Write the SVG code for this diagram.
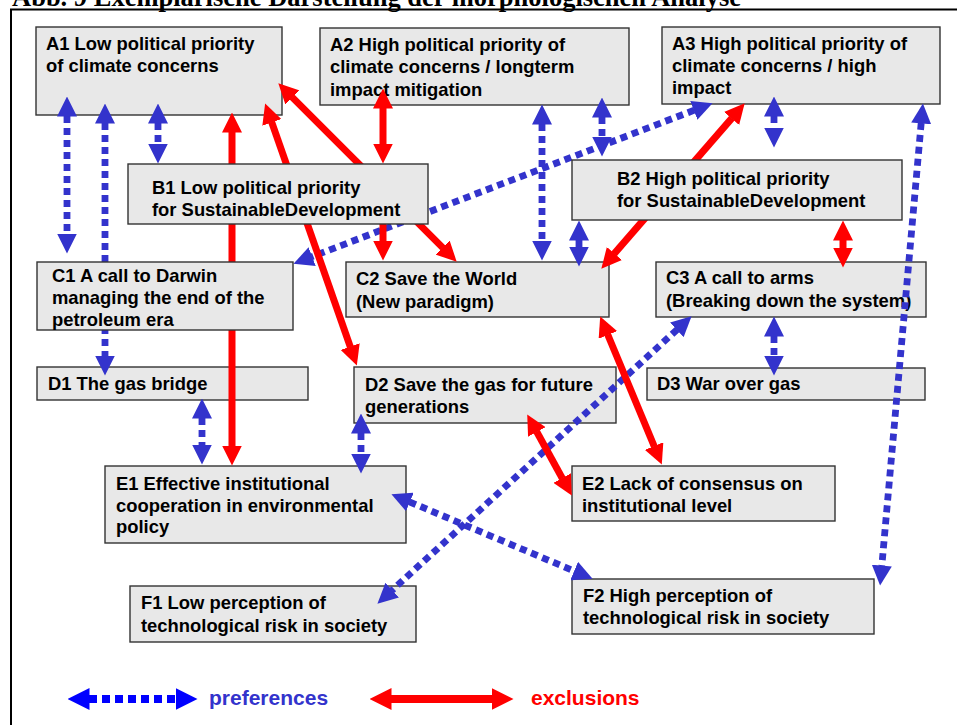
<svg xmlns="http://www.w3.org/2000/svg" width="957" height="725" viewBox="0 0 957 725">
<defs>
<style>
.box{fill:#e8e8e8;stroke:#333;stroke-width:1.4}
.t{font-family:"Liberation Sans",Arial,sans-serif;font-weight:bold;font-size:18.4px;fill:#000}
.pref{fill:none;stroke:#3333cc;stroke-width:6.8;stroke-dasharray:7 5;marker-start:url(#hb);marker-end:url(#hb)}
.excl{fill:none;stroke:#ff0000;stroke-width:7;marker-start:url(#hr);marker-end:url(#hr)}
</style>
<marker id="hb" markerUnits="userSpaceOnUse" markerWidth="20" markerHeight="20" viewBox="0 0 20 20" refX="0.5" refY="10" orient="auto-start-reverse"><path d="M0,0 L20,10 L0,20 Z" fill="#3333cc"/></marker>
<marker id="hr" markerUnits="userSpaceOnUse" markerWidth="20" markerHeight="20" viewBox="0 0 20 20" refX="0.5" refY="10" orient="auto-start-reverse"><path d="M0,0 L20,10 L0,20 Z" fill="#ff0000"/></marker>
<marker id="lb" markerUnits="userSpaceOnUse" markerWidth="22" markerHeight="22" viewBox="0 0 22 22" refX="0.5" refY="11" orient="auto-start-reverse"><path d="M0,0 L22,11 L0,22 Z" fill="#0000ff"/></marker>
<marker id="lr" markerUnits="userSpaceOnUse" markerWidth="22" markerHeight="22" viewBox="0 0 22 22" refX="0.5" refY="11" orient="auto-start-reverse"><path d="M0,0 L22,11 L0,22 Z" fill="#ff0000"/></marker>
</defs>
<rect width="957" height="725" fill="#fff"/>
<text x="12" y="6" font-family="Liberation Serif,serif" font-weight="bold" font-size="26.5">Abb. 9 Exemplarische Darstellung der morphologischen Analyse</text>
<path d="M11,725 V9.5 H957" fill="none" stroke="#000" stroke-width="2"/>

<g id="A1"><rect class="box" x="36" y="27" width="246" height="88"/><text class="t" x="46" y="50">A1 Low political priority</text><text class="t" x="46" y="72">of climate concerns</text></g>
<g id="A2"><rect class="box" x="320" y="28" width="309" height="77"/><text class="t" x="330" y="51">A2 High political priority of</text><text class="t" x="330" y="73">climate concerns / longterm</text><text class="t" x="330" y="96">impact mitigation</text></g>
<g id="A3"><rect class="box" x="662" y="27" width="278" height="77"/><text class="t" x="672" y="50">A3 High political priority of</text><text class="t" x="672" y="72">climate concerns / high</text><text class="t" x="672" y="94">impact</text></g>
<g id="C2"><rect class="box" x="346" y="262" width="263" height="55"/><text class="t" x="356" y="285">C2 Save the World</text><text class="t" x="356" y="308">(New paradigm)</text></g>
<g id="C3"><rect class="box" x="656" y="262" width="270" height="55"/><text class="t" x="666" y="284">C3 A call to arms</text><text class="t" x="666" y="307">(Breaking down the system)</text></g>
<g id="D1"><rect class="box" x="37" y="367" width="271" height="33"/><text class="t" x="48" y="390">D1 The gas bridge</text></g>
<g id="D2"><rect class="box" x="354" y="367" width="262" height="56"/><text class="t" x="365" y="391">D2 Save the gas for future</text><text class="t" x="365" y="413">generations</text></g>
<g id="D3"><rect class="box" x="647" y="368" width="278" height="32"/><text class="t" x="657" y="390">D3 War over gas</text></g>
<g id="E1"><rect class="box" x="105" y="466" width="301" height="77"/><text class="t" x="116" y="490">E1 Effective institutional</text><text class="t" x="116" y="512">cooperation in environmental</text><text class="t" x="116" y="533">policy</text></g>
<g id="E2"><rect class="box" x="572" y="466" width="263" height="55"/><text class="t" x="582" y="490">E2 Lack of consensus on</text><text class="t" x="582" y="512">institutional level</text></g>
<g id="F1"><rect class="box" x="130" y="586" width="286" height="56"/><text class="t" x="141" y="609">F1 Low perception of</text><text class="t" x="141" y="632">technological risk in society</text></g>
<g id="F2"><rect class="box" x="572" y="579" width="302" height="55"/><text class="t" x="583" y="602">F2 High perception of</text><text class="t" x="583" y="624">technological risk in society</text></g>

<g id="connectors">
<line class="pref" x1="67" y1="116" x2="67" y2="234"/>
<line class="pref" x1="105" y1="123" x2="105" y2="356"/>
<line class="pref" x1="158" y1="123" x2="158" y2="144"/>
<line class="pref" x1="694.3" y1="110.2" x2="311.7" y2="256.8"/>
<line class="pref" x1="542" y1="124" x2="542" y2="241"/>
<line class="pref" x1="602" y1="117" x2="602" y2="137"/>
<line class="pref" x1="579" y1="240" x2="579" y2="247"/>
<line class="pref" x1="774" y1="116" x2="774" y2="128"/>
<line class="pref" x1="921.2" y1="122.9" x2="881.8" y2="566.1"/>
<line class="pref" x1="774" y1="336" x2="774" y2="356"/>
<line class="pref" x1="677.2" y1="329.5" x2="391.8" y2="590.5"/>
<line class="pref" x1="202" y1="418" x2="202" y2="445"/>
<line class="pref" x1="361" y1="433" x2="361" y2="454"/>
<line class="pref" x1="409.4" y1="501.8" x2="574.6" y2="571.2"/>
<line class="excl" x1="232" y1="132" x2="232" y2="446"/>
<line class="excl" x1="271.6" y1="121.9" x2="350.4" y2="347.1"/>
<line class="excl" x1="292.1" y1="97.1" x2="442.9" y2="247.9"/>
<line class="excl" x1="383" y1="108" x2="383" y2="144"/>
<line x1="383" y1="210" x2="383" y2="241" fill="none" stroke="#ff0000" stroke-width="7" marker-end="url(#hr)"/>
<line class="excl" x1="731.9" y1="118.1" x2="614.1" y2="253.9"/>
<line class="excl" x1="843" y1="240" x2="843" y2="248"/>
<line class="excl" x1="607.7" y1="334.5" x2="654.3" y2="446.5"/>
<line class="excl" x1="536.6" y1="431.5" x2="562.4" y2="478.5"/>
</g>

<g id="B1"><rect class="box" x="128" y="164" width="300" height="60"/><text class="t" x="152" y="194">B1 Low political priority</text><text class="t" x="152" y="216">for SustainableDevelopment</text></g>
<g id="B2"><rect class="box" x="572" y="160" width="330" height="60"/><text class="t" x="617" y="185">B2 High political priority</text><text class="t" x="617" y="207">for SustainableDevelopment</text></g>
<g id="C1"><rect class="box" x="37" y="262" width="256" height="68"/><text class="t" x="52" y="282">C1 A call to Darwin</text><text class="t" x="52" y="304">managing the end of the</text><text class="t" x="52" y="326">petroleum era</text></g>

<g id="legend">
<line x1="89" y1="699" x2="176" y2="699" stroke="#0000ff" stroke-width="8" stroke-dasharray="8 5" marker-start="url(#lb)" marker-end="url(#lb)"/>
<text x="209" y="705" font-family="Liberation Sans,Arial,sans-serif" font-weight="bold" font-size="21" fill="#3333cc">preferences</text>
<line x1="391" y1="699" x2="492" y2="699" stroke="#ff0000" stroke-width="8" marker-start="url(#lr)" marker-end="url(#lr)"/>
<text x="531" y="705" font-family="Liberation Sans,Arial,sans-serif" font-weight="bold" font-size="21" fill="#ff0000">exclusions</text>
</g>
</svg>
